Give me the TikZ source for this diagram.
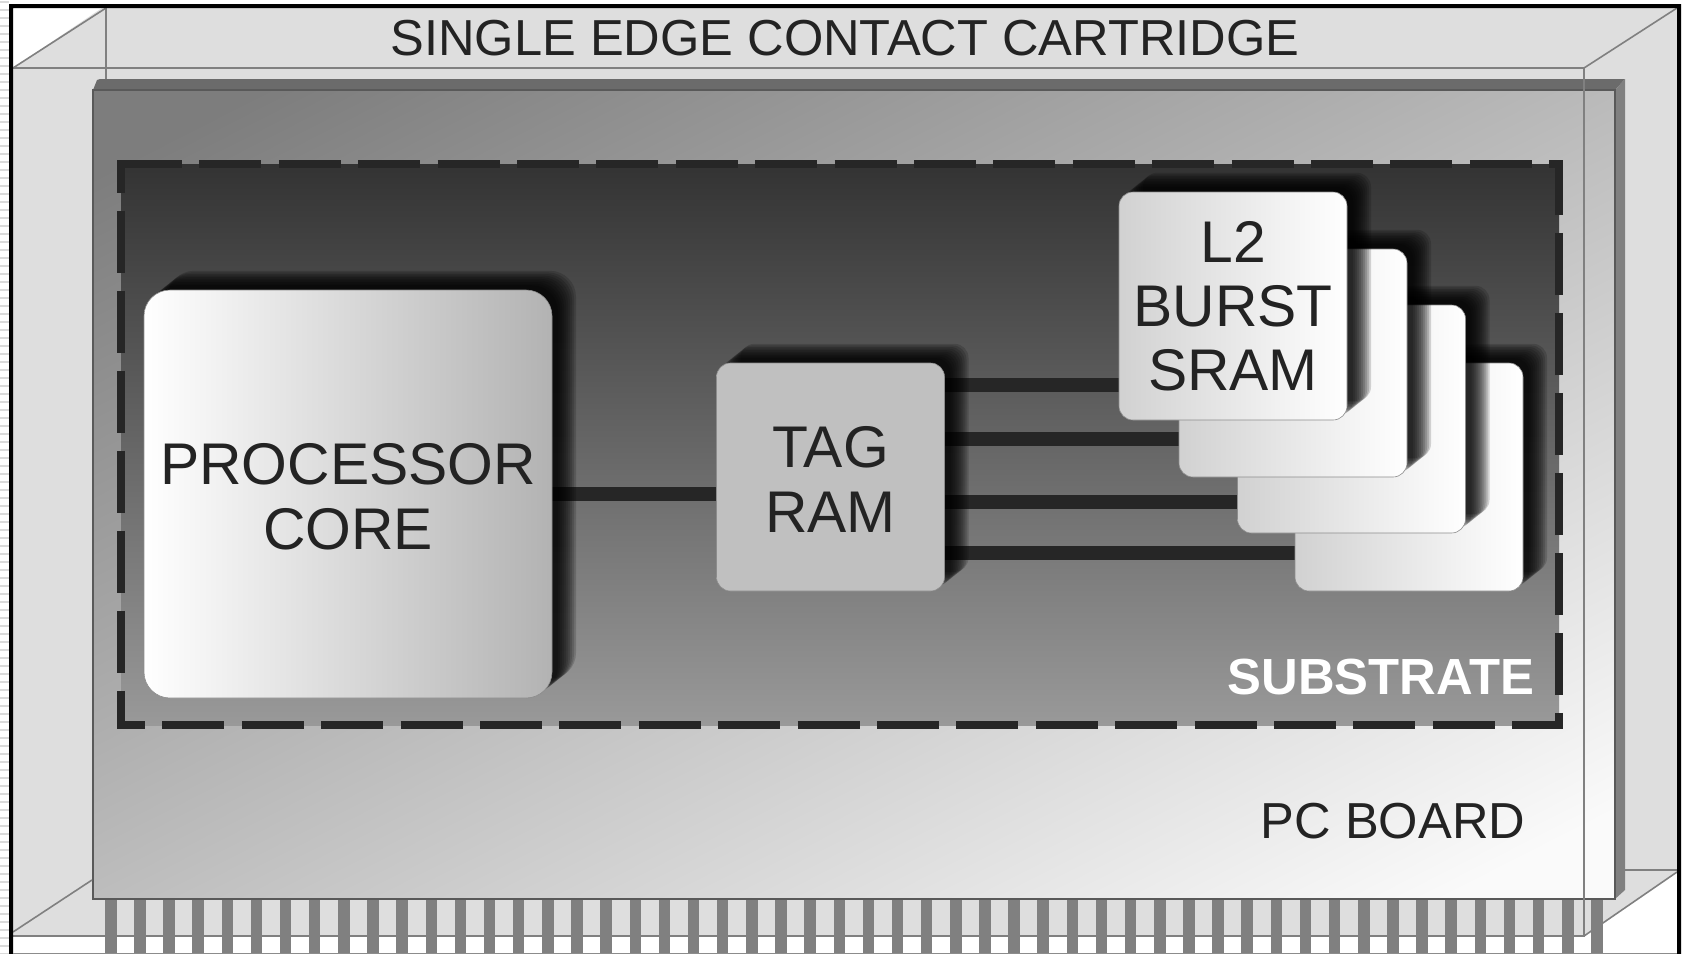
\documentclass[tikz,border=0pt]{standalone}
\usepackage{fontspec}
\setmainfont{Liberation Sans}
\usetikzlibrary{backgrounds}
\definecolor{casefill}{HTML}{DEDEDE}
\definecolor{caseline}{HTML}{808080}
\definecolor{pingray}{HTML}{808080}
\definecolor{busdark}{HTML}{262626}
\definecolor{inktext}{HTML}{232323}
\definecolor{tagfill}{HTML}{C0C0C0}
\definecolor{tickgray}{HTML}{DADADA}
\definecolor{boarddark}{HTML}{7D7D7D}
\definecolor{boardlight}{HTML}{FAFAFA}
\pgfdeclareverticalshading{boardfade}{100bp}{color(0bp)=(boardlight); color(20bp)=(boardlight); color(80bp)=(boarddark); color(100bp)=(boarddark)}
\newcommand{\capstrut}{\rule{0pt}{23pt}}

\begin{document}
\begin{tikzpicture}[
    x=0.5pt, y=-0.5pt,
    shadowstep/.style={preaction={fill=black, opacity=.16, transform canvas={shift={(#1,0.8*#1)}}}},
    softshadow/.style={shadowstep=12pt, shadowstep=11pt, shadowstep=10pt, shadowstep=9pt, shadowstep=8pt, shadowstep=7pt, shadowstep=6pt, shadowstep=5pt, shadowstep=4pt, shadowstep=3pt},
    chipblock/.style={softshadow, draw=black!45, line width=.3pt, rounded corners=7pt, minimum size=114pt, inner sep=0pt, outer sep=0pt, align=center, text=inktext, left color=black!18, right color=white, font=\fontsize{29.4}{32}\selectfont},
    tagblock/.style={chipblock, left color=tagfill, right color=tagfill, font=\fontsize{29.4}{32.6}\selectfont},
    coreblock/.style={chipblock, rounded corners=13pt, minimum size=204pt, left color=white, right color=black!30, font=\fontsize{29.4}{32.6}\selectfont},
    board/.style={draw=black!65, line width=.6pt, inner sep=0pt, outer sep=0pt, minimum width=761pt, minimum height=404.5pt, shade, shading=boardfade, shading angle=27},
    subbody/.style={inner sep=0pt, outer sep=0pt, minimum width=719pt, minimum height=280.5pt, top color=black!80, bottom color=black!40},
    subdash/.style={draw=busdark, line width=3.8pt, dash pattern=on 31pt off 8.7pt},
    subdashv/.style={draw=busdark, line width=3.8pt, dash pattern=on 31pt off 9pt, shorten <=-1.9pt, shorten >=-1.9pt},
    bus/.style={draw=busdark, line width=7pt},
    caseedge/.style={draw=caseline, line width=.8pt},
    label/.style={inner sep=0pt, anchor=base, text=inktext, font=\fontsize{25.3}{30}\selectfont},
]
\useasboundingbox (0,0) rectangle (1683,954);

% --- Chips ---
\node[coreblock] (core) at (348,494) {\capstrut PROCESSOR\\CORE};
\node[tagblock] (tag) at (830.5,477) {\capstrut TAG\\RAM};
\node[chipblock] (chipd) at (1409,477) {};
\node[chipblock] (chipc) at (1351.5,419) {};
\node[chipblock] (chipb) at (1293,363) {};
\node[chipblock] (chipa) at (1233,306) {L2\\BURST\\SRAM};

% --- Labels ---
\node[label] (title) at (845,55) {SINGLE EDGE CONTACT CARTRIDGE};
\node[label] (pcb) at (1393,838) {PC BOARD};
\node[label, text=white, font=\fontsize{25.4}{30}\selectfont\bfseries] (sub) at (1381,694) {SUBSTRATE};

\begin{scope}[on background layer]
% Case
\fill[casefill] (102,8) -- (1677,8) -- (1677,872) -- (1584,936) -- (13,936) -- (13,68) -- cycle;

% Pins
\foreach \i in {0,...,51}
    \fill[pingray] ({105+29.14*\i},899) rectangle ({116.5+29.14*\i},953);

% Board faces
\fill[black!58] (93,90) -- (97,80) -- (100,79) -- (1625,79) -- (1615,90) -- cycle;
\fill[pingray] (1615,90) -- (1625,79) -- (1625,890) -- (1615,899) -- cycle;
\node[board] (pcboard) at (854,494.5) {};

% Substrate
\node[subbody] (substrate) at (840,444.5) {};
\draw[subdash, dash phase=.5pt] (substrate.north west) -- (substrate.north east);
\draw[subdash, dash phase=19pt] (substrate.south west) -- (substrate.south east);
\draw[subdashv, dash phase=14.7pt] (substrate.north west) -- (substrate.south west);
\draw[subdashv, dash phase=3.7pt] (substrate.north east) -- (substrate.south east);

% Case edges
\draw[caseedge] (13,68) -- (1584,68) -- (1584,936) -- (13,936);
\draw[caseedge] (13,68) -- (106,8) -- (106,79);
\draw[caseedge] (1584,68) -- (1677,8);
\draw[caseedge] (1584,936) -- (1677,872);
\draw[caseedge] (13,932) -- (92,880);
\draw[caseedge] (1625,870) -- (1677,870);

% Buses
\draw[bus] (core.east) -- (core.east -| tag.west);
\draw[bus] (tag.east |- 0,385) -- (chipa.west |- 0,385);
\draw[bus] (tag.east |- 0,439) -- (chipb.west |- 0,439);
\draw[bus] (tag.east |- 0,502) -- (chipc.west |- 0,502);
\draw[bus] (tag.east |- 0,553) -- (chipd.west |- 0,553);

% Frame
\foreach \y in {2,10,...,954}
    \draw[tickgray, line width=.7pt] (0,\y) -- (9,\y);
\fill[black] (9,954) -- (9,4) -- (1681,4) -- (1681,954) -- (1677,954) -- (1677,8) -- (13,8) -- (13,954) -- cycle;
\draw[black!45, line width=.4pt] (13,953) -- (1677,953);
\end{scope}
\end{tikzpicture}
\end{document}
